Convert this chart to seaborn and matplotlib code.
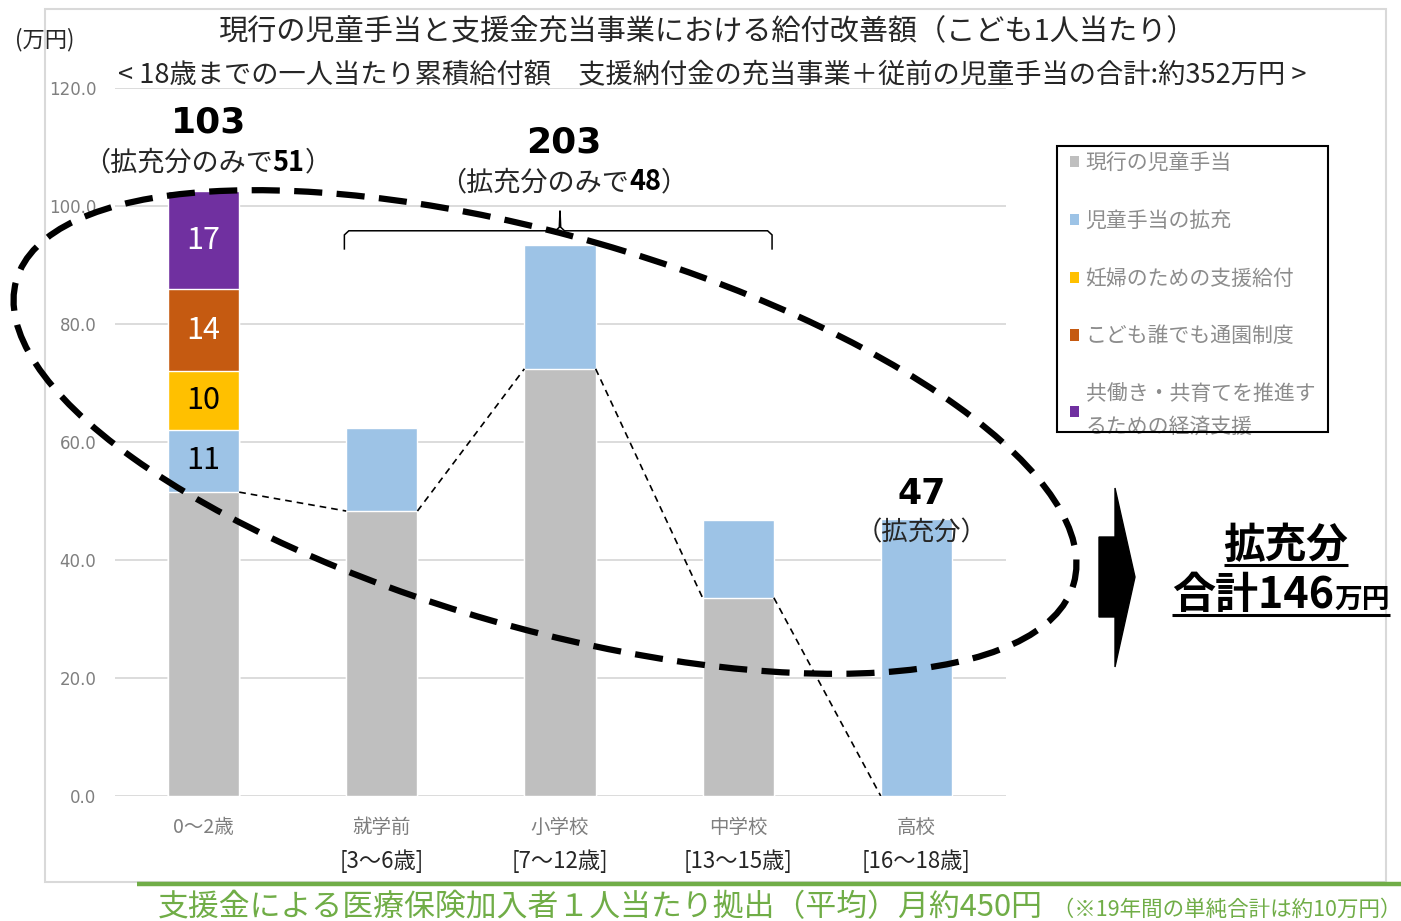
import numpy as np
import pandas as pd
import matplotlib
matplotlib.use("Agg")
import matplotlib.pyplot as plt
import matplotlib.transforms as mtransforms
from matplotlib.patches import Ellipse, Polygon, Rectangle, Patch, PathPatch
from matplotlib.path import Path
import seaborn as sns

# ---------------- data ----------------
categories = ["0～2歳", "就学前", "小学校", "中学校", "高校"]
age_ranges = ["", "[3～6歳]", "[7～12歳]", "[13～15歳]", "[16～18歳]"]
current_allowance = [51.5, 48.3, 72.4, 33.6, 0.0]
allowance_expansion = [10.6, 14.0, 21.0, 13.2, 47.0]
pregnancy_support = [9.9, 0.0, 0.0, 0.0, 0.0]
nursery_system = [13.9, 0.0, 0.0, 0.0, 0.0]
dual_income_support = [16.6, 0.0, 0.0, 0.0, 0.0]

series_names = ["現行の児童手当", "児童手当の拡充", "妊婦のための支援給付",
                "こども誰でも通園制度", "共働き・共育てを推進す\nるための経済支援"]
series_colors = ["#BFBFBF", "#9DC3E6", "#FFC000", "#C55A11", "#7030A0"]
segment_label_colors = [None, "black", "black", "white", "white"]
y_ticks = [0, 20, 40, 60, 80, 100, 120]

title = "現行の児童手当と支援金充当事業における給付改善額（こども1人当たり）"
subtitle = "< 18歳までの一人当たり累積給付額　支援納付金の充当事業＋従前の児童手当の合計:約352万円 >"
unit_label = "(万円)"

# ---------------- style ----------------
sns.set_theme(style="white")
plt.rcParams["font.family"] = ["Noto Sans CJK JP", "DejaVu Sans"]

W, H, DPI = 1401, 921, 100
fig = plt.figure(figsize=(W / DPI, H / DPI), dpi=DPI)
fig.patch.set_facecolor("white")

ax = fig.add_axes([114.5 / W, 1 - 796 / H, (1005.5 - 114.5) / W, (796 - 88) / H])

layers = [current_allowance, allowance_expansion, pregnancy_support,
          nursery_system, dual_income_support]
cum = np.cumsum(np.array(layers), axis=0)

# draw cumulative layers from the top down so lower layers paint over
for k in range(len(layers) - 1, -1, -1):
    df = pd.DataFrame({"category": categories, "value": cum[k], "raw": layers[k]})
    df = df[df["raw"] > 0]
    sns.barplot(data=df, x="category", y="value", order=categories,
                color=series_colors[k], saturation=1, width=0.4,
                errorbar=None, ax=ax, zorder=2)

ax.set_xlim(-0.5, 4.5)
ax.set_ylim(0, 120)
ax.set_yticks(y_ticks)
ax.set_yticklabels([f"{v:.1f}" for v in y_ticks], fontsize=12, color="#7F7F7F",
                   fontfamily="DejaVu Sans")
ax.set_xticks(range(len(categories)))
ax.set_xticklabels(categories, fontsize=14, color="#7F7F7F")
ax.tick_params(axis="both", length=0)
ax.tick_params(axis="y", pad=13)
ax.tick_params(axis="x", pad=15)
ax.set_xlabel("")
ax.set_ylabel("")
for s in ax.spines.values():
    s.set_visible(False)
ax.yaxis.grid(True, color="#D9D9D9", linewidth=1.3)
ax.set_axisbelow(True)
ax.patch.set_alpha(0)

# age range second-line labels
for i, lab in enumerate(age_ranges):
    if lab:
        ax.text(i, -0.092, lab, transform=ax.get_xaxis_transform(), ha="center",
                va="center", fontsize=16, color="#262626")

# segment labels for the 0~2 column
bottom = 0.0
for k in range(len(layers)):
    v = layers[k][0]
    if k > 0 and v > 0:
        ax.text(0, bottom + v / 2, f"{v:.0f}", ha="center", va="center",
                fontsize=22, color=segment_label_colors[k], zorder=4)
    bottom += v

# dashed connectors between the current-allowance tops
for i in range(len(categories) - 1):
    ax.plot([i + 0.2, i + 0.8], [current_allowance[i], current_allowance[i + 1]],
            color="black", lw=1.2, ls=(0, (4, 3)), zorder=3)

# brace over 就学前〜中学校
bx0, bx1, bxm = 0.79, 3.19, 2.0
by, byl, byt = 95.8, 92.6, 99.2
verts = [(bx0, byl), (bx0, by - 0.7), (bx0 + 0.025, by), (bxm - 0.025, by),
         (bxm - 0.004, by + 0.6), (bxm, byt), (bxm + 0.004, by + 0.6),
         (bxm + 0.025, by), (bx1 - 0.025, by), (bx1, by - 0.7), (bx1, byl)]
ax.add_patch(PathPatch(Path(verts), fill=False, lw=1.1, color="black", zorder=3))

# legend (frame drawn separately so the inset matches)
handles = [Patch(facecolor=c, edgecolor="none") for c in series_colors]
leg = ax.legend(handles, series_names, loc="upper left",
                bbox_to_anchor=(1070 / W, 1 - 152 / H), bbox_transform=fig.transFigure,
                frameon=False, fontsize=15,
                labelcolor="#8C8C8C", handlelength=0.45, handleheight=0.45,
                handletextpad=0.3, labelspacing=1.72, borderpad=0.0, borderaxespad=0)
for t in leg.get_texts():
    t.set_linespacing(1.6)

# ---------------- overlay for free-floating decoration ----------------
ov = fig.add_axes([0, 0, 1, 1])
ov.set_xlim(0, W)
ov.set_ylim(H, 0)
ov.axis("off")
ov.patch.set_alpha(0)
ov.set_zorder(5)

ov.add_patch(Rectangle((45, 9), 1341, 873, fill=False, edgecolor="#D9D9D9", lw=1.5))
ov.add_patch(Rectangle((1057, 146), 271, 286, fill=False, edgecolor="black", lw=1.5))
ov.plot([137, W], [884, 884], color="#70AD47", lw=3.2, solid_capstyle="butt")

ov.text(45, 40, unit_label, ha="center", va="center", fontsize=16, color="#262626")
ov.text(707, 32, title, ha="center", va="center", fontsize=21, color="#262626")
ov.text(118, 76, subtitle, ha="left", va="center", fontsize=19.6, color="#262626")

ov.add_patch(Ellipse((545, 432), 1100, 392, angle=16, fill=False, edgecolor="black",
                     lw=4.5, ls=(0, (4.5, 2.3))))

ov.add_patch(Polygon([(1099, 537), (1115, 537), (1115, 488), (1135, 577),
                      (1115, 667), (1115, 617), (1099, 617)], closed=True,
                     facecolor="black", edgecolor="black"))

renderer = fig.canvas.get_renderer()


def mixed_text(axis, x, y, parts, transform, align="center"):
    """Place text pieces with different styles on one baseline."""
    arts = []
    widths = []
    for s, kw in parts:
        t = axis.text(x, y, s, transform=transform, ha="left", va="baseline", **kw)
        arts.append(t)
        widths.append(t.get_window_extent(renderer).width)
    total = sum(widths)
    start = -total / 2 if align == "center" else 0
    cum_w = 0
    for t, w in zip(arts, widths):
        t.set_transform(mtransforms.offset_copy(transform, fig=fig, x=start + cum_w,
                                                y=0, units="dots"))
        cum_w += w
    return arts


# group annotations (data coordinates)
ax.text(0.03, 114.2, "103", ha="center", va="center", fontsize=26, fontweight="bold",
        color="black", fontfamily="DejaVu Sans")
mixed_text(ax, 0.02, 106.0, [("（拡充分のみで", dict(fontsize=19.5, color="#262626")),
                             ("51", dict(fontsize=19.5, fontweight="bold", color="black")),
                             ("）", dict(fontsize=19.5, color="#262626"))], ax.transData)
ax.text(2.02, 110.8, "203", ha="center", va="center", fontsize=26, fontweight="bold",
        color="black", fontfamily="DejaVu Sans")
mixed_text(ax, 2.02, 102.7, [("（拡充分のみで", dict(fontsize=19.5, color="#262626")),
                             ("48", dict(fontsize=19.5, fontweight="bold", color="black")),
                             ("）", dict(fontsize=19.5, color="#262626"))], ax.transData)
ax.text(4.03, 51.2, "47", ha="center", va="center", fontsize=25, fontweight="bold",
        color="black", fontfamily="DejaVu Sans", zorder=4)
ax.text(4.03, 44.6, "（拡充分）", ha="center", va="center", fontsize=19,
        color="#262626", zorder=4)

# right summary text
t1 = ov.text(1286, 558, "拡充分", ha="center", va="baseline", fontsize=30,
             fontweight="bold", color="black")
arts2 = mixed_text(ov, 1172, 608, [("合計146", dict(fontsize=31, fontweight="bold", color="black")),
                                   ("万円", dict(fontsize=20, fontweight="bold", color="black"))],
                   ov.transData, align="left")

inv = ov.transData.inverted()
bb1 = t1.get_window_extent(renderer)
(x0, _), (x1, _) = inv.transform([(bb1.x0, 0), (bb1.x1, 0)])
ov.plot([x0, x1], [565, 565], color="black", lw=2.2, solid_capstyle="butt")
bbs = [a.get_window_extent(renderer) for a in arts2]
(x0, _), (x1, _) = inv.transform([(bbs[0].x0, 0), (bbs[-1].x1, 0)])
ov.plot([x0, x1], [615, 615], color="black", lw=2.2, solid_capstyle="butt")

# bottom note
mixed_text(ov, 158, 916, [("支援金による医療保険加入者１人当たり拠出（平均）月約450円",
                           dict(fontsize=22.2, color="#70AD47")),
                          ("  （※19年間の単純合計は約10万円）", dict(fontsize=15.5, color="#70AD47"))],
           ov.transData, align="left")

fig.savefig("out.png", dpi=DPI, facecolor="white")
